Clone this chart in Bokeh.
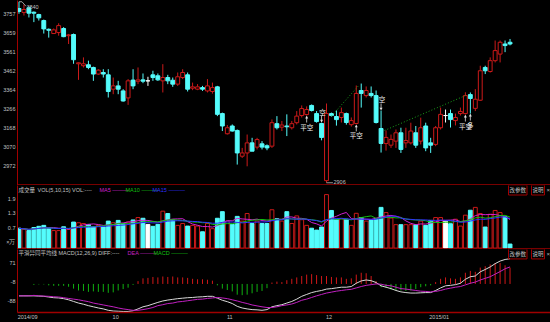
import pandas as pd
from bokeh.plotting import figure
from bokeh.layouts import column
from bokeh.models import Range1d, FixedTicker, Span, Label, ColumnDataSource, LinearAxis
from bokeh.embed import file_html
from bokeh.resources import INLINE

# ---------------- data ----------------
opens = [3805, 3785, 3809, 3786, 3774, 3743, 3698, 3676, 3681, 3702,
         3665, 3671, 3520, 3510, 3515, 3501, 3467, 3475, 3463, 3389,
         3406, 3380, 3344, 3436, 3430, 3437, 3432, 3463, 3458, 3432,
         3449, 3435, 3415, 3449, 3463, 3394, 3389, 3397, 3380, 3377,
         3401, 3263, 3159, 3199, 3176, 3043, 3060, 3112, 3090, 3107,
         3097, 3095, 3211, 3193, 3199, 3190, 3216, 3253, 3258, 3305,
         3263, 3212, 2917, 3263, 3248, 3243, 3263, 3206, 3212, 3382,
         3356, 3367, 3356, 3186, 3109, 3100, 3121, 3164, 3112, 3112,
         3164, 3121, 3199, 3112, 3104, 3190, 3253, 3263, 3227, 3263,
         3263, 3361, 3290, 3332, 3501, 3480, 3536, 3570, 3622, 3631]
highs = [3840, 3826, 3816, 3790, 3778, 3748, 3702, 3702, 3729, 3709,
         3674, 3676, 3528, 3553, 3536, 3505, 3492, 3492, 3492, 3449,
         3432, 3389, 3441, 3492, 3501, 3470, 3453, 3484, 3470, 3518,
         3463, 3449, 3475, 3492, 3475, 3423, 3415, 3406, 3441, 3423,
         3406, 3268, 3204, 3207, 3181, 3086, 3155, 3138, 3138, 3121,
         3104, 3233, 3250, 3225, 3259, 3225, 3276, 3305, 3300, 3310,
         3276, 3216, 3315, 3268, 3279, 3294, 3268, 3243, 3408, 3418,
         3403, 3403, 3382, 3279, 3176, 3155, 3181, 3190, 3190, 3216,
         3199, 3242, 3216, 3138, 3199, 3294, 3284, 3284, 3263, 3294,
         3373, 3372, 3389, 3510, 3510, 3553, 3640, 3640, 3640, 3648]
lows = [3778, 3769, 3759, 3735, 3743, 3676, 3655, 3674, 3665, 3657,
        3622, 3520, 3437, 3501, 3492, 3432, 3463, 3449, 3346, 3363,
        3363, 3325, 3308, 3389, 3415, 3420, 3406, 3432, 3432, 3372,
        3415, 3401, 3406, 3441, 3377, 3384, 3384, 3380, 3372, 3366,
        3250, 3173, 3155, 3170, 3000, 3034, 2991, 3069, 3078, 3078,
        3074, 3086, 3181, 3173, 3147, 3181, 3207, 3243, 3253, 3274,
        3216, 3125, 2906, 3248, 3201, 3217, 3206, 3196, 3207, 3294,
        3346, 3346, 3212, 3062, 3072, 3086, 3086, 3060, 3086, 3104,
        3086, 3104, 3069, 3060, 3095, 3181, 3217, 3191, 3202, 3253,
        3258, 3263, 3276, 3328, 3467, 3475, 3527, 3527, 3580, 3615]
closes = [3790, 3800, 3781, 3781, 3757, 3700, 3693, 3695, 3717, 3660,
          3669, 3541, 3525, 3520, 3501, 3467, 3487, 3467, 3377, 3406,
          3389, 3328, 3432, 3406, 3437, 3430, 3432, 3449, 3437, 3449,
          3432, 3415, 3453, 3475, 3389, 3401, 3401, 3389, 3406, 3397,
          3259, 3199, 3190, 3173, 3060, 3060, 3112, 3069, 3129, 3090,
          3086, 3216, 3190, 3204, 3195, 3211, 3250, 3289, 3284, 3279,
          3222, 3140, 3263, 3253, 3232, 3268, 3217, 3227, 3367, 3367,
          3382, 3356, 3217, 3109, 3140, 3130, 3164, 3078, 3124, 3173,
          3100, 3190, 3086, 3100, 3190, 3259, 3253, 3232, 3243, 3274,
          3356, 3341, 3337, 3484, 3484, 3536, 3588, 3631, 3614, 3622]
volumes = [0.84, 0.79, 0.74, 0.87, 0.92, 0.96, 0.84, 0.74, 0.74, 0.90,
           0.79, 1.10, 1.07, 1.04, 1.00, 0.90, 0.96, 0.89, 1.14, 1.07,
           1.17, 1.04, 1.10, 1.19, 1.29, 1.26, 1.00, 0.92, 1.00, 1.56,
           1.46, 1.19, 0.96, 1.04, 0.93, 0.96, 0.93, 0.69, 1.04, 0.82,
           1.26, 1.54, 1.14, 1.00, 1.34, 1.14, 1.46, 1.04, 1.14, 1.04,
           1.04, 1.62, 1.24, 1.14, 1.54, 1.04, 1.36, 1.20, 0.96, 0.84,
           0.76, 0.89, 2.26, 1.59, 1.22, 1.24, 1.22, 0.96, 1.47, 1.29,
           1.14, 1.19, 1.23, 1.72, 1.50, 1.27, 0.99, 0.99, 0.99, 0.99,
           0.99, 1.14, 0.96, 1.17, 1.29, 1.29, 1.14, 1.03, 1.22, 0.93,
           1.39, 1.60, 1.72, 1.46, 0.89, 1.43, 1.59, 1.50, 1.33, 0.17]
diff = [-51, -51, -51, -51, -52, -53, -56, -59, -60, -63,
        -68, -75, -82, -87, -93, -98, -103, -107, -113, -116,
        -117, -118, -118, -115, -107, -98, -93, -86, -79, -73,
        -69, -66, -63, -61, -59, -58, -56, -55, -53, -53,
        -61, -70, -76, -84, -96, -103, -107, -110, -111, -113,
        -110, -98, -93, -89, -82, -75, -65, -53, -45, -37,
        -32, -28, -22, -20, -17, -14, -14, -11, 3, 13,
        17, 14, 6, -8, -14, -20, -28, -34, -37, -39,
        -39, -38, -37, -37, -28, -17, -8, -6, -3, 3,
        20, 31, 34, 52, 62, 73, 87, 98, 105, 108]
dea = [-51, -51, -51, -49, -51, -52, -53, -55, -56, -59,
       -62, -65, -68, -72, -76, -82, -86, -90, -94, -98,
       -103, -107, -110, -113, -113, -110, -106, -101, -93, -89,
       -84, -82, -77, -75, -72, -69, -66, -65, -62, -60,
       -58, -60, -63, -68, -73, -79, -84, -90, -94, -98,
       -101, -101, -98, -93, -90, -86, -79, -70, -65, -58,
       -51, -45, -39, -35, -31, -28, -25, -23, -17, -11,
       -6, -3, 0, -1, -6, -8, -14, -20, -22, -25,
       -28, -31, -32, -34, -32, -28, -22, -18, -14, -11,
       -4, 3, 8, 17, 24, 31, 42, 53, 65, 73]

price_ticks = [3757, 3659, 3561, 3462, 3364, 3266, 3168, 3070, 2972]
vol_ticks = [1.9, 1.3, 0.7]
vol_unit_label = "×万"
macd_ticks = [71, -8, -88]
month_start = [0, 19, 42, 62, 83]
month_labels = ["2014/09", "10", "11", "12", "2015/01"]
signals = [(58, "平空", "below"), (61, "空", "above"), (68, "平空", "below"),
           (73, "空", "above"), (90, "平空", "below"), (91, "多", "below")]
trend_lines = [([63, 68.5], [3250, 3408]), ([73.7, 90], [3176, 3356])]

# ---------------- styling ----------------
BG = "#000000"
RED = "#cc1a1a"
CYAN = "#54fcfc"
FRAME_RED = "#a00000"
TXT = "#c0c0c0"
W = 550
LEFT = 17
X0, X1 = -0.3, 107.16
PPX = (X1 - X0) / (W - LEFT)          # index units per pixel
NUMFONT = "Liberation Sans"
CJK = "Noto Sans CJK SC"
FS = "5.5px"

N = len(closes)
xs = list(range(N))
kinds = ["up" if c > o else ("down" if c < o else "flat") for o, c in zip(opens, closes)]
body_line = [RED if k == "up" else (CYAN if k == "down" else "#ffffff") for k in kinds]
body_fill = [BG if k == "up" else (CYAN if k == "down" else "#ffffff") for k in kinds]


def base_fig(height, yr, bottom=0):
    p = figure(width=W, height=height, x_range=Range1d(X0, X1), y_range=yr,
               output_backend="svg", toolbar_location=None, x_axis_location=None,
               min_border_left=LEFT, min_border_right=0, min_border_top=0,
               min_border_bottom=bottom, background_fill_color=BG,
               border_fill_color=BG, outline_line_color=None)
    p.grid.visible = False
    ax = p.yaxis[0]
    ax.axis_line_color = FRAME_RED
    ax.major_tick_line_color = None
    ax.minor_tick_line_color = None
    ax.major_tick_out = 0
    ax.major_tick_in = 0
    ax.major_label_standoff = 2
    ax.major_label_text_color = TXT
    ax.major_label_text_font = NUMFONT
    ax.major_label_text_font_size = FS
    return p


def set_ticks(p, ticks, unit_per_px, fmt, extra=None):
    # labels sit 4px above their level, as in the original software
    pos = [round(t + 4 * unit_per_px, 3) for t in ticks]
    over = {q: fmt(t) for q, t in zip(pos, ticks)}
    if extra:
        for q, s in extra:
            pos.append(q)
            over[q] = s
    p.yaxis[0].ticker = FixedTicker(ticks=pos)
    p.yaxis[0].major_label_overrides = over


def label(p, x, y, text, color=TXT, font=NUMFONT, size=FS, align="left", **kw):
    p.add_layout(Label(x=x, y=y, text=text, text_color=color, text_font=font,
                       text_font_size=size, text_align=align,
                       text_baseline="middle", **kw))

# ---------------- main (price) panel ----------------
PH = 185
P_TOP, P_BOT = 3846.5, 2892.0
PU = (P_TOP - P_BOT) / PH
main = base_fig(PH, Range1d(P_BOT, P_TOP))
set_ticks(main, price_ticks, PU, lambda t: str(t))

src = ColumnDataSource(dict(
    x=xs, h=highs, l=lows,
    top=[max(o, c) for o, c in zip(opens, closes)],
    bot=[min(o, c) for o, c in zip(opens, closes)],
    fill=body_fill, line=body_line))
main.segment(x0="x", y0="h", x1="x", y1="top", color="line", line_width=1, source=src)
main.segment(x0="x", y0="bot", x1="x", y1="l", color="line", line_width=1, source=src)
main.vbar(x="x", width=0.78, top="top", bottom="bot", fill_color="fill",
          line_color="line", line_width=1, source=src)

for lx, ly in trend_lines:
    main.line(lx, ly, line_color="#1aa01a", line_dash="1 2", line_width=1)

# high / low markers
main.line([0, 0.6, 1.4], [highs[0], highs[0], highs[0] - 4.5 * PU], line_color=TXT, line_width=0.8)
label(main, 1.5, highs[0] - 5 * PU, str(highs[0]))
ilow = lows.index(min(lows))
main.line([ilow, ilow + 1.3], [lows[ilow], lows[ilow]], line_color=TXT, line_width=0.8)
label(main, ilow + 1.4, lows[ilow] + 1 * PU, str(lows[ilow]))

for i, txt, where in signals:
    if where == "below":
        y0 = lows[i] - 1 * PU
        main.segment(i, y0 - 6 * PU, i, y0, line_color="#e0e0e0", line_width=0.8)
        main.scatter([i], [y0 - 1 * PU], marker="triangle", size=3, fill_color="#e0e0e0", line_color=None)
        label(main, i, y0 - 10 * PU, txt, color="#f0f0f0", font=CJK, size="6.5px", align="center")
    else:
        y0 = highs[i] + 1 * PU
        main.segment(i, y0, i, y0 + 6 * PU, line_color="#e0e0e0", line_width=0.8)
        main.scatter([i], [y0 + 1 * PU], marker="inverted_triangle", size=3, fill_color="#e0e0e0", line_color=None)
        label(main, i + 0.2, y0 + 10 * PU, txt, color="#f0f0f0", font=CJK, size="6.5px", align="center")

main.add_layout(Span(location=P_BOT + 0.6 * PU, dimension="width", line_color=FRAME_RED, line_width=1.5))

# ---------------- volume panel ----------------
VH = 64
V_TOP, V_BOT = 2.645, -0.06
VU = (V_TOP - V_BOT) / VH
vol = base_fig(VH, Range1d(V_BOT, V_TOP))
vy = lambda py: V_TOP - (py - 185) * VU
set_ticks(vol, vol_ticks, VU, lambda t: f"{t:.1f}", extra=[(round(vy(242), 3), vol_unit_label)])

vsrc = ColumnDataSource(dict(x=xs, v=volumes, fill=body_fill, line=body_line))
vol.vbar(x="x", width=0.78, top="v", bottom=0, fill_color="fill", line_color="line",
         line_width=1, source=vsrc)
vs = pd.Series(volumes)
ma_cols = [(5, "#d020d0"), (10, "#10c010"), (15, "#3030ff")]
for n, col in ma_cols:
    vol.line(xs, vs.rolling(n, min_periods=1).mean().tolist(), line_color=col, line_width=1)

label(vol, X0 + 1 * PPX, vy(189.5), "成交量", font=CJK, size="5.5px")
label(vol, X0 + 20 * PPX, vy(189.5), "VOL(5,10,15) VOL:----")
title_parts = [("MA5", "#d020d0", 82), ("MA10", "#10c010", 108), ("MA15", "#3030ff", 135)]
for t, col, px in title_parts:
    label(vol, X0 + px * PPX, vy(189.5), t + " ———", color=col)
vol.add_layout(Span(location=V_BOT + 0.6 * VU, dimension="width", line_color=FRAME_RED, line_width=1.5))

# ---------------- MACD panel ----------------
MH = 73
M_TOP, M_BOT = 147.7, -122.4
MU = (M_TOP - M_BOT) / 64
macd = base_fig(MH, Range1d(M_BOT, M_TOP), bottom=9)
set_ticks(macd, macd_ticks, MU, lambda t: str(t))

hist = [2 * (a - b) for a, b in zip(diff, dea)]
hcol = ["#d01818" if h >= 0 else "#10b010" for h in hist]
macd.segment(x0=xs, y0=[0] * N, x1=xs, y1=hist, line_color=hcol, line_width=1)
macd.line(xs, diff, line_color="#d8d8d8", line_width=1)
macd.line(xs, dea, line_color="#c020c0", line_width=1)

my = lambda py: M_TOP - (py - 249) * MU
label(macd, X0 + 1 * PPX, my(253), "平滑异同平均线", font=CJK, size="5.5px")
label(macd, X0 + 41 * PPX, my(253), "MACD(12,26,9) DIFF:----")
label(macd, X0 + 110 * PPX, my(253), "DEA ———", color="#c020c0")
label(macd, X0 + 136 * PPX, my(253), "MACD ———", color="#10c010")

# date axis
dax = LinearAxis()
macd.add_layout(dax, "below")
dpos = [round(m + (len(s) * 2.45 / 2) * PPX, 2) for m, s in zip(month_start, month_labels)]
dax.ticker = FixedTicker(ticks=dpos)
dax.major_label_overrides = {q: s for q, s in zip(dpos, month_labels)}
dax.axis_line_color = FRAME_RED
dax.axis_line_width = 1.5
dax.major_tick_line_color = None
dax.minor_tick_line_color = None
dax.major_tick_out = 0
dax.major_tick_in = 0
dax.major_label_standoff = 1
dax.major_label_text_color = TXT
dax.major_label_text_font = NUMFONT
dax.major_label_text_font_size = FS

# buttons on the right
for p, py, yf in [(vol, 189.5, vy), (macd, 253.5, my)]:
    label(p, X0 + (508 - LEFT) * PPX, yf(py), "改参数", font=CJK, size="5.5px",
          border_line_color=FRAME_RED, padding=1)
    label(p, X0 + (531 - LEFT) * PPX, yf(py), "说明", font=CJK, size="5.5px",
          border_line_color=FRAME_RED, padding=1)
    label(p, X0 + (546 - LEFT) * PPX, yf(py), "×", size="6px", color="#b0b0b0")

layout = column(main, vol, macd, spacing=0, styles={"background-color": "black"})
open("out.html", "w").write(file_html(layout, INLINE))
